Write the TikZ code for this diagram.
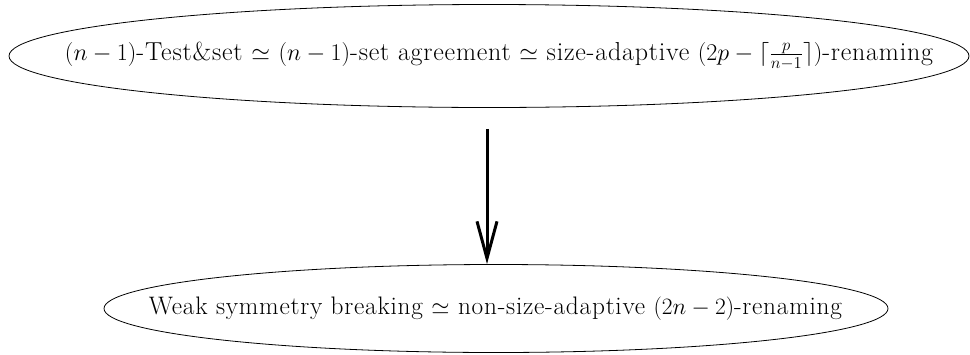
\documentclass[tikz,border=0pt]{standalone}
\usepackage{graphicx}
\usepackage{fontspec}
\setmainfont{Latin Modern Roman}[LetterSpace=3]
\usetikzlibrary{shapes.geometric,arrows.meta}
\tikzset{
  oval/.style={draw, ellipse, line width=0.8pt, inner sep=0pt},
  lbl/.style={inner sep=0pt, anchor=center},
  impl/.style={line width=3pt, -{Straight Barb[length=37pt, width=20pt]}}
}
\newcommand{\fitlabel}[2]{\resizebox{#1}{!}{\fontsize{22.4}{26}\selectfont #2}}
\begin{document}
\begin{tikzpicture}[x=1pt, y=-1pt]
\useasboundingbox (0,0) rectangle (970,354);
\node[oval, minimum width=960pt, minimum height=103pt] (top) at (489,56) {};
\node[lbl] (toptext) at (499,56) {\fitlabel{868pt}{$(n-1)$-Test\&set $\simeq$ $(n-1)$-set agreement $\simeq$ size-adaptive $(2p-\lceil\frac{p}{n-1}\rceil)$-renaming}};
\node[oval, minimum width=784pt, minimum height=88pt] (bot) at (496,308.5) {};
\node[lbl] (bottext) at (495.5,308.5) {\fitlabel{693pt}{Weak symmetry breaking $\simeq$ non-size-adaptive $(2n-2)$-renaming}};
\draw[impl, shorten <=21pt] (top.south -| 487,0) -- (bot.north -| 487,0);
\end{tikzpicture}
\end{document}
